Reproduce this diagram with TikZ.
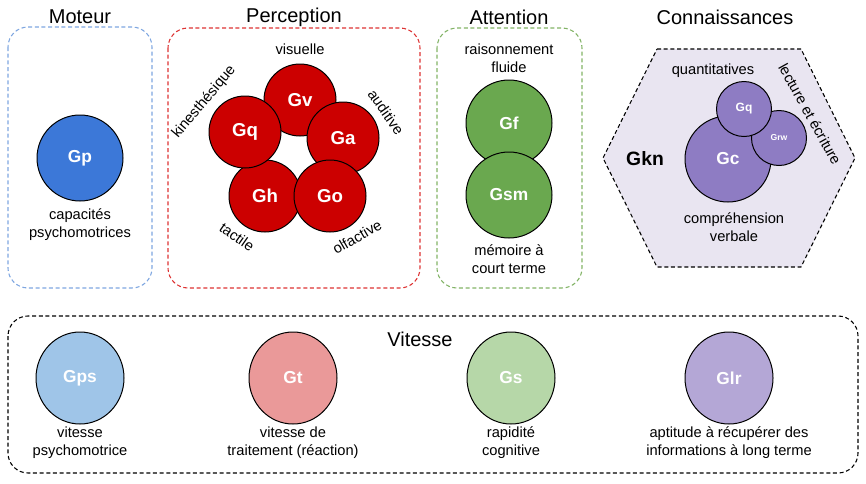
\documentclass[tikz,border=0pt]{standalone}
\usepackage{fontspec}
\setmainfont{Liberation Sans}
\usetikzlibrary{shapes.geometric}
\definecolor{motblue}{HTML}{7EA6E0}
\definecolor{perred}{HTML}{DD3333}
\definecolor{attgreen}{HTML}{82B366}
\definecolor{gpblue}{HTML}{3C78D8}
\definecolor{gred}{HTML}{CC0000}
\definecolor{ggreen}{HTML}{6AA84F}
\definecolor{gpurple}{HTML}{8E7CC3}
\definecolor{hexfill}{HTML}{E9E5F1}
\definecolor{lblue}{HTML}{9FC5E8}
\definecolor{lred}{HTML}{EA9999}
\definecolor{lgreen}{HTML}{B6D7A8}
\definecolor{lpurple}{HTML}{B4A7D6}
\begin{document}
\begin{tikzpicture}[x=0.75pt,y=-0.75pt,
  grp/.style={dash pattern=on 3pt off 2pt, rounded corners=15pt, line width=0.8pt},
  ttl/.style={font=\fontsize{15}{18}\selectfont, inner sep=0},
  lbl/.style={font=\fontsize{11}{13.5}\selectfont, align=center, inner sep=0},
  ball/.style={circle, draw=black, line width=0.75pt, text=white, inner sep=0,
    font=\bfseries\fontsize{13}{15}\selectfont},
  oval/.style={ellipse, draw=black, line width=0.75pt, text=white, inner sep=0,
    minimum width=66pt, minimum height=69pt, font=\bfseries\fontsize{13}{15}\selectfont}]
\useasboundingbox (0,0) rectangle (866,483);

% Moteur
\draw[grp, motblue] (8,27) rectangle (152,288);
\node[ttl] (tmot) at (80,17) {Moteur};
\node[ball, fill=gpblue, minimum size=64.5pt] (gp) at (80,158) {Gp};
\node[lbl] (lgp) at (80,225) {capacités\\psychomotrices};

% Perception
\draw[grp, perred] (168,28) rectangle (420,288);
\node[ttl] (tper) at (294,17) {Perception};
\node[ball, fill=gred, minimum size=54pt, font=\bfseries\fontsize{14}{16}\selectfont] (gv) at (300,100) {Gv};
\node[ball, fill=gred, minimum size=54pt, font=\bfseries\fontsize{14}{16}\selectfont] (ga) at (343,138) {Ga};
\node[ball, fill=gred, minimum size=54pt, font=\bfseries\fontsize{14}{16}\selectfont] (gh) at (265,196) {Gh};
\node[ball, fill=gred, minimum size=54pt, font=\bfseries\fontsize{14}{16}\selectfont] (gq) at (245,132) {Gq};
\node[ball, fill=gred, minimum size=54pt, font=\bfseries\fontsize{14}{16}\selectfont] (go) at (330,196) {Go};
\node[lbl] (lvis) at (300,49) {visuelle};
\node[lbl, rotate=-55] (laud) at (386,112) {auditive};
\node[lbl, rotate=50] (lkin) at (204,102) {kinesthésique};
\node[lbl, rotate=-35] (ltac) at (237,237) {tactile};
\node[lbl, rotate=30] (lolf) at (357,237) {olfactive};

% Attention
\draw[grp, attgreen] (437,28) rectangle (582,288);
\node[ttl] (tatt) at (509,17) {Attention};
\node[ball, fill=ggreen, minimum size=64.5pt] (gf) at (509,123) {Gf};
\node[ball, fill=ggreen, minimum size=64.5pt] (gsm) at (509,195) {Gsm};
\node[lbl] (lgf) at (509,58) {raisonnement\\fluide};
\node[lbl] (lgsm) at (509,259) {mémoire à\\court terme};

% Connaissances
\draw[dash pattern=on 3pt off 2pt, line width=0.8pt, fill=hexfill]
  (657,49) -- (801,49) -- (855,158) -- (801,267) -- (657,267) -- (603,158) -- cycle;
\node[ttl] (tcon) at (725,17) {Connaissances};
\node[font=\bfseries\fontsize{14.5}{17}\selectfont, inner sep=0] (gkn) at (645,159) {Gkn};
\node[ball, fill=gpurple, minimum size=64.5pt] (gc) at (728,159) {Gc};
\node[ball, fill=gpurple, minimum size=41.25pt, font=\bfseries\fontsize{6.5}{8}\selectfont] (grw) at (779,138) {Grw};
\node[ball, fill=gpurple, minimum size=41.25pt, font=\bfseries\fontsize{9}{11}\selectfont] (gqk) at (744,109) {Gq};
\node[lbl] (lquant) at (713,71) {quantitatives};
\node[lbl, rotate=-61] (llec) at (810,114) {lecture et écriture};
\node[lbl] (lcomp) at (734,227) {compréhension\\verbale};

% Vitesse
\draw[grp, black] (8,316) rectangle (858,473);
\node[ttl] (tvit) at (420,339) {Vitesse};
\node[oval, fill=lblue] (gps) at (80,378) {Gps};
\node[oval, fill=lred] (gt) at (293,378) {Gt};
\node[oval, fill=lgreen] (gs) at (511,378) {Gs};
\node[oval, fill=lpurple] (glr) at (729,378) {Glr};
\node[lbl] (lgps) at (80,443) {vitesse\\psychomotrice};
\node[lbl] (lgt) at (293,443) {vitesse de\\traitement (réaction)};
\node[lbl] (lgs) at (511,443) {rapidité\\cognitive};
\node[lbl] (lglr) at (729,443) {aptitude à récupérer des\\informations à long terme};
\end{tikzpicture}
\end{document}
